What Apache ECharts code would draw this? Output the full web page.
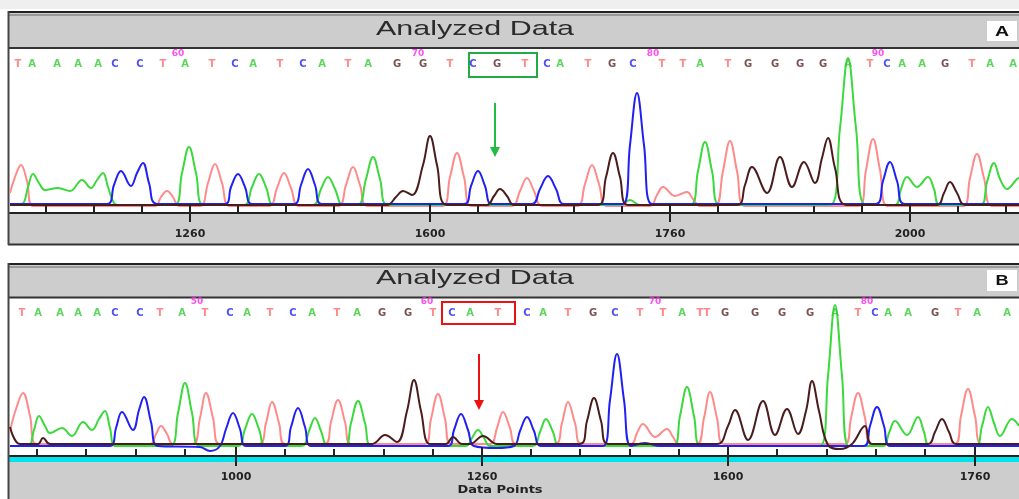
<!DOCTYPE html>
<html><head><meta charset="utf-8">
<script src="https://cdn.jsdelivr.net/npm/echarts@6/dist/echarts.min.js"></script>
<style>html,body{margin:0;padding:0;background:#fff}#c{width:1019px;height:499px}</style>
</head><body><div id="c"></div>
<script>
// ---------- Panel A (top) ----------
const topMinorTicks = [46,94,142,190,238,286,334,382,430,478,526,574,622,670,718,766,814,862,910,958,1006];
const topMajorTicks = [190,430,670,910];
const topTickLabels = ['1260','1600','1760','2000'];
const topBases = 'TAAAACCTATCATCATAGGTCGTCATGCTTATGGGGATCAAGTAA';
const topBasePos = [18,32,57,78,98,115,140,163,185,212,235,253,280,303,322,348,368,397,423,450,473,497,525,547,560,588,612,633,662,683,700,728,748,775,800,823,848,870,887,902,922,945,972,990,1013];
const topNumLabels = ['60','70','80','90'];
const topNumPos = [178,418,653,878];
const topGreen = [[10,8],[22,9],[28,26],[33,39],[39,30],[45,23],[58,25],[70,22],[82,33],[91,25],[97,33],[103,40],[108,26],[114,10],[120,8],
  [174,8],[182,40],[189,66],[196,40],[204,8],[244,8],[252,26],[259,39],[266,26],[274,8],[313,8],[321,24],[328,36],[335,24],[343,8],
  [358,8],[366,34],[373,56],[380,34],[388,8],[620,8],[630,13],[640,8],[690,8],[698,42],[705,71],[712,42],[720,8],
  [830,8],[840,85],[848,155],[856,85],[866,8],[895,8],[901,24],[907,36],[917,26],[928,36],[934,24],[940,8],
  [980,8],[987,31],[994,50],[1000,34],[1007,24],[1017,34],[1019,35]];
const topRed = [[10,20],[15,36],[21,48],[27,32],[33,7],[155,7],[161,16],[167,22],[173,16],[179,7],[200,7],[208,30],[215,49],[222,30],[230,7],
  [269,7],[277,25],[284,40],[291,25],[299,7],[338,7],[346,28],[353,46],[360,28],[368,7],[442,7],[450,36],[457,60],[464,36],[472,7],
  [512,7],[520,22],[527,35],[534,22],[542,7],[577,7],[585,29],[592,48],[599,29],[607,7],[650,7],[657,18],[663,26],[675,17],[687,21],[693,14],[700,7],
  [715,7],[723,42],[730,72],[737,42],[745,7],[859,7],[866,43],[873,74],[880,43],[888,7],[963,7],[970,35],[977,59],[984,35],[992,7],[1019,7]];
const topBlue = [[10,9],[107,9],[114,28],[121,42],[131,27],[137,40],[143,50],[149,30],[157,9],[225,9],[231,26],[238,39],[245,26],[252,9],
  [294,9],[301,28],[308,44],[315,28],[322,9],[464,9],[471,27],[478,42],[485,27],[492,9],[532,9],[540,24],[548,37],[556,24],[564,9],
  [623,9],[630,68],[637,120],[644,68],[652,9],[876,9],[883,32],[890,51],[897,32],[905,9],[1019,9]];
const topBlack = [[10,8],[387,8],[396,16],[403,22],[412,18],[423,48],[430,77],[437,48],[447,8],[487,8],[494,17],[500,24],[507,17],[514,8],
  [598,8],[606,36],[613,60],[620,36],[628,8],[737,8],[745,28],[752,46],[767,20],[780,56],[792,26],[804,51],[815,30],[822,55],[828,75],[835,45],[847,8],
  [937,8],[944,20],[950,31],[957,20],[965,8],[1019,8]];

// ---------- Panel B (bottom) ----------
const botMinorTicks = [37,86,136,185,236,285,334,384,433,482,531,580,630,679,728,777,827,876,925,975];
const botMajorTicks = [236,482,728,975];
const botTickLabels = ['1000','1260','1600','1760'];
const botBases = 'TAAAACCTATCATCATAGGTCATCATGCTTATTGGGGATCAAGTAA';
const botBasePos = [22,38,60,78,97,115,140,160,182,205,230,247,270,293,312,337,357,382,408,433,452,470,498,527,543,568,593,615,640,663,682,700,707,725,755,782,810,835,858,875,888,908,935,958,977,1007];
const botNumLabels = ['50','60','70','80'];
const botNumPos = [197,427,655,867];
const botGreen = [[10,10],[28,10],[34,26],[39,40],[45,30],[50,23],[62,28],[72,20],[83,34],[92,26],[99,37],[105,45],[110,28],[116,10],
  [170,10],[178,43],[185,73],[192,43],[200,10],[238,10],[245,27],[252,42],[259,27],[266,10],[302,10],[309,25],[315,38],[321,25],[328,10],
  [345,10],[351,33],[358,55],[365,33],[372,10],[466,10],[472,18],[478,26],[484,18],[490,10],[533,10],[540,24],[546,37],[553,24],[560,10],
  [673,10],[680,40],[687,69],[694,40],[701,10],[820,10],[828,80],[835,151],[842,80],[849,10],[883,10],[889,23],[895,35],[907,21],[918,39],[924,24],[930,10],
  [975,10],[982,30],[988,49],[994,33],[1000,20],[1012,37],[1019,30]];
const botRed = [[10,25],[16,47],[23,63],[30,40],[36,12],[150,12],[156,22],[161,30],[167,22],[173,12],[193,12],[200,38],[206,63],[213,38],[220,12],
  [259,12],[266,33],[272,54],[279,33],[285,12],[325,12],[331,34],[338,56],[345,34],[351,12],[425,12],[431,37],[438,62],[445,37],[451,12],
  [490,12],[497,28],[503,44],[510,28],[516,12],[555,12],[562,33],[568,54],[575,33],[582,12],[631,12],[637,23],[643,32],[655,19],[667,27],[673,19],[679,12],
  [697,12],[704,38],[710,64],[717,38],[724,12],[845,12],[851,38],[858,63],[865,38],[871,12],[955,12],[961,40],[968,67],[975,40],[982,12],[1019,12]];
const botBlue = [[10,10],[110,10],[116,28],[122,44],[133,26],[139,46],[144,59],[151,34],[158,10],[200,9],[210,5],[220,10],[226,27],[233,43],[240,27],[246,10],
  [285,10],[291,29],[298,48],[305,29],[311,10],[448,10],[454,26],[461,42],[468,26],[474,10],[496,8],[514,10],[520,25],[527,39],[534,25],[541,10],
  [603,10],[610,56],[617,102],[624,56],[631,10],[645,13],[660,10],[864,10],[870,30],[877,49],[884,30],[890,10],[1019,10]];
const botBlack = [[10,29],[20,12],[38,12],[43,18],[50,12],[372,12],[385,21],[397,14],[407,45],[414,76],[421,45],[430,12],
  [446,12],[453,19],[462,12],[470,12],[483,20],[497,12],[580,12],[587,35],[594,58],[601,35],[608,12],
  [717,12],[728,30],[735,46],[748,16],[763,55],[775,21],[787,47],[798,22],[806,45],[812,75],[819,45],[828,11],[840,7],[852,12],[865,30],[872,12],
  [928,12],[935,24],[942,37],[949,24],[956,12],[1019,12]];

const traceColors = {T:'#ff8a8a', A:'#3cd93c', C:'#2020f5', G:'#4a1c1c'};
const letterColors = {T:'#ff6a6a', A:'#33cc33', C:'#2424ee', G:'#5a2424'};

const chart = echarts.init(document.getElementById('c'), null, {renderer:'canvas'});

function trace(data, color, g){
  return {type:'line', xAxisIndex:g*3, yAxisIndex:g, data:data, smooth:0.4, showSymbol:false, symbol:'none',
    lineStyle:{color:color, width:2}, clip:true, silent:true, animation:false, z:2};
}
function letters(bases, pos, v, g, extra){
  const s = {type:'scatter', xAxisIndex:g*3, yAxisIndex:g, symbolSize:1, itemStyle:{color:'rgba(0,0,0,0)'},
    data: bases.split('').map((b,i)=>({name:b, value:[pos[i], v], label:{color:letterColors[b]}})),
    label:{show:true, position:'inside', formatter:p=>p.name, fontSize:10, fontWeight:'bold', fontFamily:'DejaVu Sans'},
    clip:false, silent:true, animation:false, z:5};
  return Object.assign(s, extra||{});
}
function numbers(labels, pos, v, g){
  return {type:'scatter', xAxisIndex:g*3, yAxisIndex:g, symbolSize:1, itemStyle:{color:'rgba(0,0,0,0)'},
    data: labels.map((t,i)=>({name:t, value:[pos[i], v]})),
    label:{show:true, position:'inside', formatter:p=>p.name, fontSize:9, fontWeight:'bold', fontFamily:'DejaVu Sans', color:'#ff22ee'},
    clip:false, silent:true, animation:false, z:5};
}
function xAxes(g, minor, major, labels, outLen){
  const base = {type:'value', gridIndex:g, position:'bottom', offset:0, min:10, max:1019, splitLine:{show:false}, z:10};
  return [
    Object.assign({}, base, {axisLine:{show:true, lineStyle:{color:'#222', width:2}},
      axisTick:{show:true, inside:true, length:7, customValues:minor, lineStyle:{color:'#222', width:2}},
      axisLabel:{show:false}}),
    Object.assign({}, base, {axisLine:{show:false},
      axisTick:{show:true, inside:true, length:9, customValues:major, lineStyle:{color:'#222', width:2}},
      axisLabel:{show:false}}),
    Object.assign({}, base, {axisLine:{show:false},
      axisTick:{show:true, inside:false, length:outLen, customValues:major, lineStyle:{color:'#222', width:2}},
      axisLabel:{show:true, customValues:major, margin:16, formatter:v=>labels[major.indexOf(v)] || '',
        fontSize:11, fontWeight:'bold', fontFamily:'DejaVu Sans', color:'#222'}})
  ];
}

const g = [];
g.push({type:'rect', shape:{x:0,y:0,width:1019,height:9}, style:{fill:'#efefef'}});
g.push({type:'rect', shape:{x:9,y:12,width:1010,height:36}, style:{fill:'#cdcdcd'}});
g.push({type:'line', shape:{x1:8,y1:12,x2:1019,y2:12}, style:{stroke:'#222', lineWidth:2}});
g.push({type:'line', shape:{x1:8,y1:15,x2:1019,y2:15}, style:{stroke:'#666', lineWidth:1}});
g.push({type:'line', shape:{x1:8,y1:48,x2:1019,y2:48}, style:{stroke:'#333', lineWidth:2}});
g.push({type:'rect', shape:{x:9,y:214,width:1010,height:30}, style:{fill:'#cdcdcd'}});
g.push({type:'line', shape:{x1:8,y1:244.5,x2:1019,y2:244.5}, style:{stroke:'#333', lineWidth:2}});
g.push({type:'line', shape:{x1:8.5,y1:11,x2:8.5,y2:245}, style:{stroke:'#444', lineWidth:2}});
g.push({type:'text', x:475, y:29, scaleX:1.45, style:{text:'Analyzed Data', fontSize:21, fontFamily:'Liberation Sans, Arial', fill:'#2b2b2b', align:'center', verticalAlign:'middle'}});
g.push({type:'rect', shape:{x:987,y:21,width:30,height:20}, style:{fill:'#fff'}});
g.push({type:'text', x:1002, y:32, scaleX:1.3, style:{text:'A', fontSize:15, fontWeight:'bold', fontFamily:'Liberation Sans, Arial', fill:'#111', align:'center', verticalAlign:'middle'}});
g.push({type:'rect', shape:{x:9,y:264,width:1010,height:33}, style:{fill:'#cdcdcd'}});
g.push({type:'line', shape:{x1:8,y1:264,x2:1019,y2:264}, style:{stroke:'#222', lineWidth:2}});
g.push({type:'line', shape:{x1:8,y1:267,x2:1019,y2:267}, style:{stroke:'#666', lineWidth:1}});
g.push({type:'line', shape:{x1:8,y1:297.5,x2:1019,y2:297.5}, style:{stroke:'#333', lineWidth:2}});
g.push({type:'rect', shape:{x:9,y:457,width:1010,height:5}, style:{fill:'#00e3ea'}});
g.push({type:'rect', shape:{x:9,y:462,width:1010,height:37}, style:{fill:'#cdcdcd'}});
g.push({type:'line', shape:{x1:8.5,y1:263,x2:8.5,y2:499}, style:{stroke:'#444', lineWidth:2}});
g.push({type:'text', x:475, y:278, scaleX:1.45, style:{text:'Analyzed Data', fontSize:21, fontFamily:'Liberation Sans, Arial', fill:'#2b2b2b', align:'center', verticalAlign:'middle'}});
g.push({type:'rect', shape:{x:987,y:270,width:30,height:21}, style:{fill:'#fff'}});
g.push({type:'text', x:1002, y:281, scaleX:1.3, style:{text:'B', fontSize:14, fontWeight:'bold', fontFamily:'Liberation Sans, Arial', fill:'#111', align:'center', verticalAlign:'middle'}});
g.push({type:'text', x:500, y:490, scaleX:1.3, style:{text:'Data Points', fontSize:10, fontWeight:'bold', fontFamily:'DejaVu Sans', fill:'#222', align:'center', verticalAlign:'middle'}});

const option = {
  animation:false,
  backgroundColor:'#fff',
  graphic:{elements:g},
  grid:[
    {left:10, right:0, top:48, height:165},
    {left:10, right:0, top:298, height:158}
  ],
  xAxis: [].concat(xAxes(0, topMinorTicks, topMajorTicks, topTickLabels, 9), xAxes(1, botMinorTicks, botMajorTicks, botTickLabels, 10)),
  yAxis:[
    {type:'value', gridIndex:0, min:0, max:165, show:false},
    {type:'value', gridIndex:1, min:0, max:158, show:false}
  ],
  series:[
    trace(topRed, traceColors.T, 0), trace(topGreen, traceColors.A, 0), trace(topBlue, traceColors.C, 0), trace(topBlack, traceColors.G, 0),
    trace(botRed, traceColors.T, 1), trace(botGreen, traceColors.A, 1), trace(botBlue, traceColors.C, 1), trace(botBlack, traceColors.G, 1),
    letters(topBases, topBasePos, 149, 0, {
      markLine:{silent:true, symbol:['none','triangle'], symbolSize:[10,10], animation:false,
        lineStyle:{color:'#22bb44', width:2, type:'solid'}, label:{show:false},
        data:[[{coord:[495,110]},{coord:[495,61]}]]},
      markArea:{silent:true, itemStyle:{color:'rgba(0,0,0,0)', borderColor:'#22aa44', borderWidth:2}, label:{show:false},
        data:[[{coord:[469,160]},{coord:[537,136]}]]}
    }),
    numbers(topNumLabels, topNumPos, 159, 0),
    letters(botBases, botBasePos, 143, 1, {
      markLine:{silent:true, symbol:['none','triangle'], symbolSize:[10,10], animation:false,
        lineStyle:{color:'#ee1111', width:2, type:'solid'}, label:{show:false},
        data:[[{coord:[479,102]},{coord:[479,51]}]]},
      markArea:{silent:true, itemStyle:{color:'rgba(0,0,0,0)', borderColor:'#ee1111', borderWidth:2}, label:{show:false},
        data:[[{coord:[442,154]},{coord:[515,132]}]]}
    }),
    numbers(botNumLabels, botNumPos, 154, 1)
  ]
};
chart.setOption(option);
</script></body></html>
